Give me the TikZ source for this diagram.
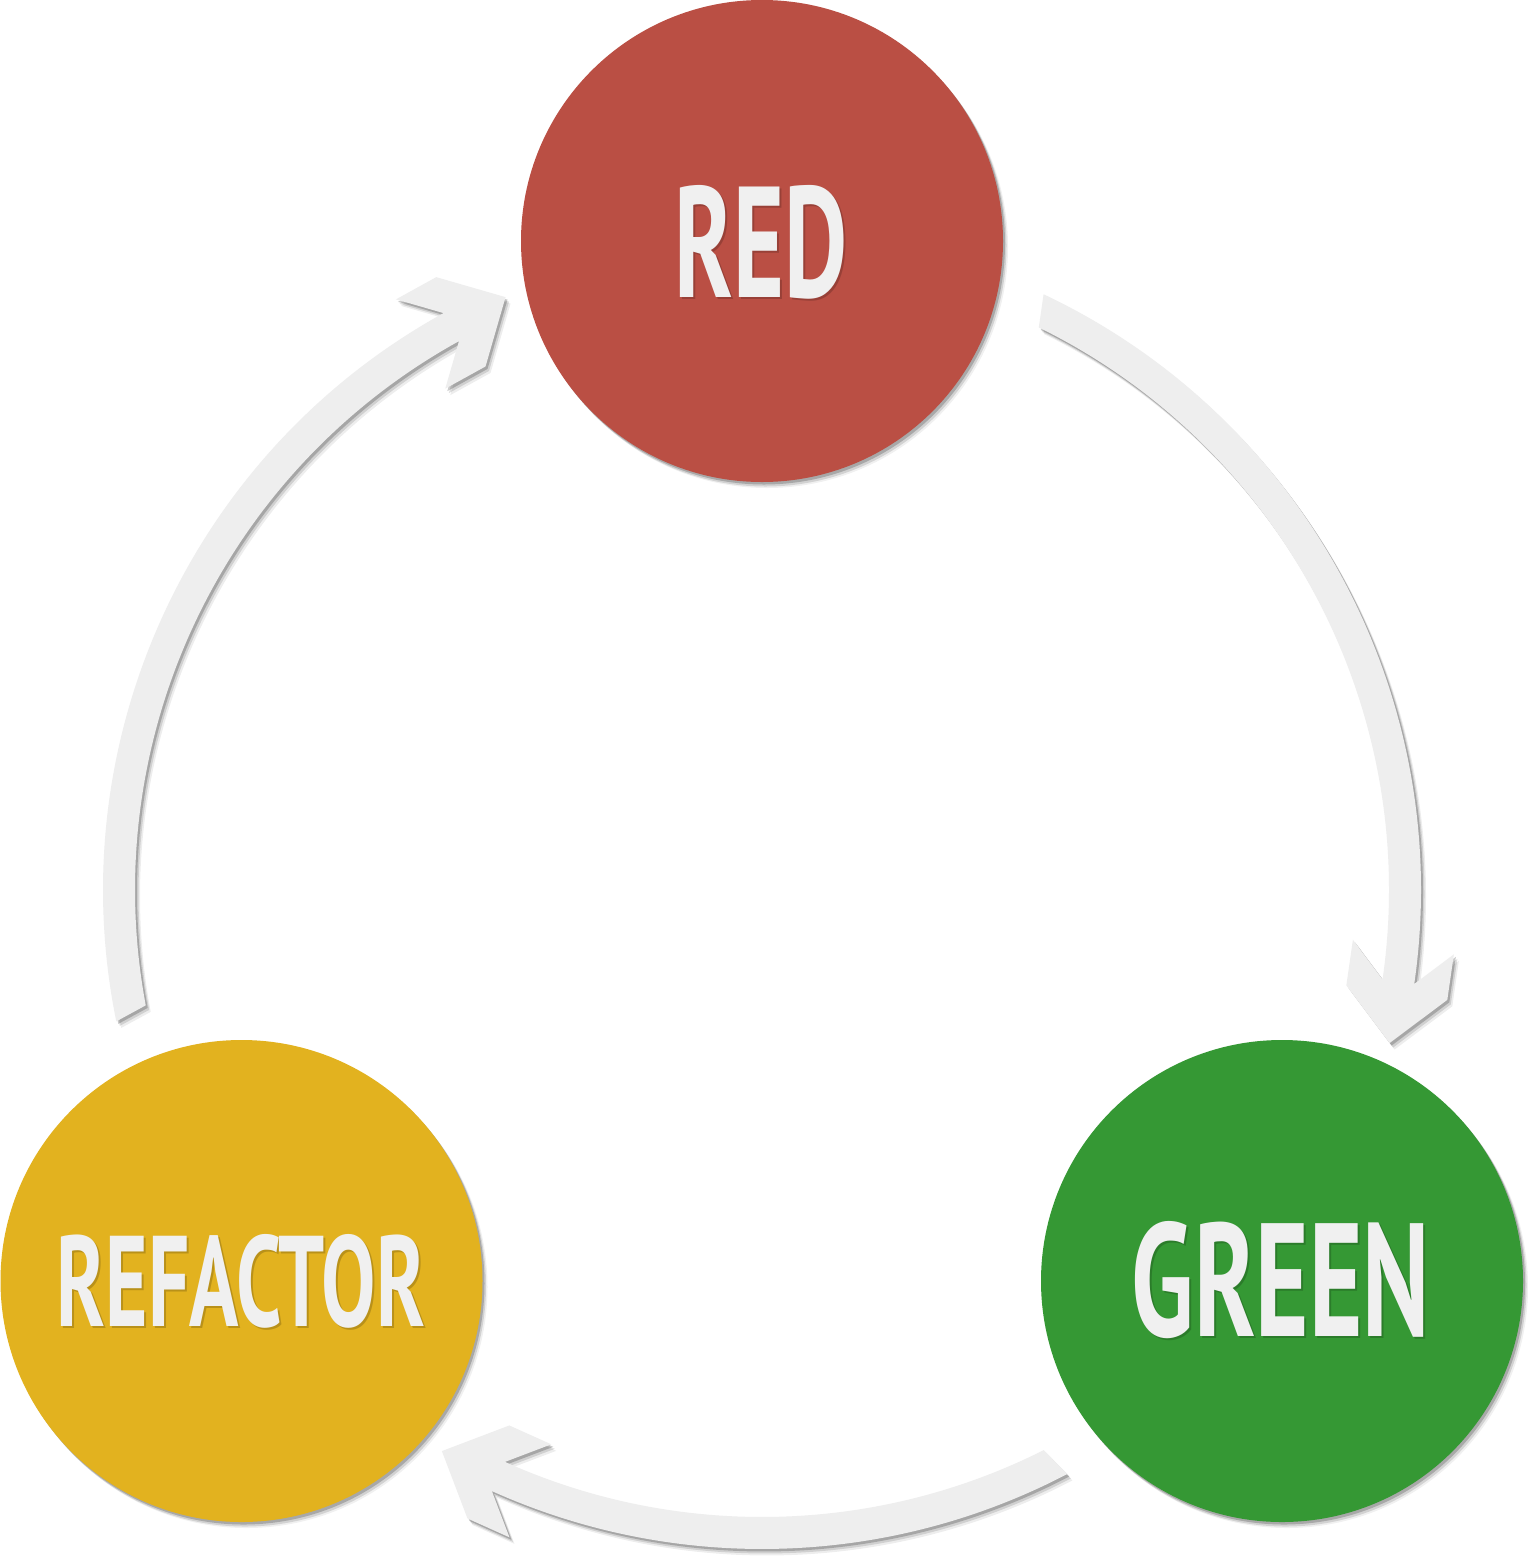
\documentclass[tikz,border=0pt]{standalone}
\usepackage{fontspec}
\setmainfont{PT Sans}
\usepackage{graphicx}
\usetikzlibrary{calc}
\definecolor{redc}{HTML}{BA4F44}
\definecolor{greenc}{HTML}{359834}
\definecolor{yellowc}{HTML}{E2B21F}
\definecolor{arrowc}{HTML}{EEEEEE}
\definecolor{txtc}{HTML}{F0F0F0}
% arrow outline in a frame rotated so that +x points to the shaft end; #1 = sweep angle
\newcommand\arrowpath[1]{%
  (#1+0.5:659) arc[start angle=#1+0.5, end angle=0, radius=659]
  -- (694,35) -- (694,-11) -- (643,-62) -- (592,-11) -- (592,35) -- (627,0)
  arc[start angle=0, end angle=#1-0.4, radius=627] -- cycle}
\newcommand\cyclearrow[2]{%
  \foreach \dx/\dy/\op in {5/-6.5/0.07, 3.5/-4.5/0.12, 2/-2.5/0.2} {
    \fill[black, opacity=\op, shift={(O)}, xshift=\dx, yshift=\dy, rotate=#2] \arrowpath{#1};
  }
  \fill[arrowc, shift={(O)}, rotate=#2] \arrowpath{#1};
}
\newcommand\lbl[3]{\resizebox{#1pt}{#2pt}{\bfseries #3}}
\tikzset{
  bubble/.style={circle, minimum size=482, inner sep=0, draw=none},
  lab/.style={anchor=base, inner sep=0, text=txtc},
  labshadow/.style={anchor=base, inner sep=0, text=black, opacity=0.18},
}
\begin{document}
\begin{tikzpicture}[x=1pt, y=1pt]
\useasboundingbox (0,0) rectangle (1528,-1556);
\fill[white] (0,0) rectangle (1528,-1556);
\coordinate (O) at (762,-890);
% arrows
\cyclearrow{72.4}{-8.2}
\cyclearrow{51.3}{245.8}
\cyclearrow{72.1}{118.9}
% circle shadows
\foreach \c in {(762,-241),(1282,-1281),(241.5,-1281)} {
  \foreach \dx/\dy/\op in {5/-6/0.06, 3.5/-4.5/0.12, 2/-2.5/0.2} {
    \fill[black, opacity=\op, xshift=\dx, yshift=\dy] \c circle[radius=241];
  }
}
\node[bubble, fill=redc] (red) at (762,-241) {};
\node[bubble, fill=greenc] (green) at (1282,-1281) {};
\node[bubble, fill=yellowc] (refactor) at (241.5,-1281) {};
% labels
\node[labshadow] (redsh) at (763.5,-299.5) {\lbl{173}{112}{RED}};
\node[lab] (redlabel) at (761.5,-297) {\lbl{173}{112}{RED}};
\node[labshadow] (greensh) at (1283,-1338.5) {\lbl{298}{115}{GREEN}};
\node[lab] (greenlabel) at (1281,-1336) {\lbl{298}{115}{GREEN}};
\node[labshadow] (refsh) at (243,-1328.5) {\lbl{368}{92}{REFACTOR}};
\node[lab] (reflabel) at (241,-1326) {\lbl{368}{92}{REFACTOR}};
\end{tikzpicture}
\end{document}
